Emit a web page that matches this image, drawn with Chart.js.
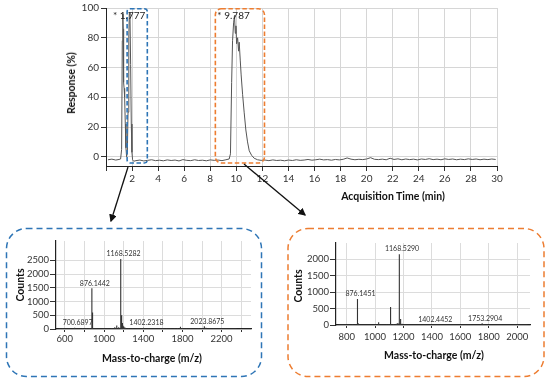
<!DOCTYPE html>
<html><head><meta charset="utf-8">
<script src="https://cdn.jsdelivr.net/npm/chart.js@4"></script>
<style>
html,body{margin:0;padding:0;background:#fff;}
#wrap{position:relative;width:550px;height:383px;overflow:hidden;font-family:Lato,'Open Sans',sans-serif;}
.box{position:absolute;}
.t{position:absolute;font-weight:bold;font-size:10.5px;color:#111;white-space:nowrap;transform:translate(-50%,-50%);}
.r{transform:translate(-50%,-50%) rotate(-90deg);}
svg{position:absolute;left:0;top:0;pointer-events:none;}
</style></head><body>
<div id="wrap">
 <div class="box" style="left:0;top:0;width:550px;height:200px"><canvas id="c1"></canvas></div>
 <div class="box" style="left:0;top:230px;width:275px;height:140px"><canvas id="c2"></canvas></div>
 <div class="box" style="left:280px;top:230px;width:270px;height:140px"><canvas id="c3"></canvas></div>
 <div class="t r" style="left:71px;top:83px">Response (%)</div>
 <div class="t" style="left:393px;top:196px">Acquisition Time (min)</div>
 <div class="t r" style="left:20px;top:285px">Counts</div>
 <div class="t" style="left:152px;top:358px">Mass-to-charge (m/z)</div>
 <div class="t r" style="left:298px;top:286px">Counts</div>
 <div class="t" style="left:434px;top:355px">Mass-to-charge (m/z)</div>
 <svg width="550" height="383">
  <defs><marker id="ah" markerWidth="6" markerHeight="6" refX="5" refY="3" orient="auto"><path d="M0,0 L6,3 L0,6 z" fill="#111"/></marker></defs>
  <line x1="128" y1="167" x2="111" y2="221" stroke="#111" stroke-width="1.3" marker-end="url(#ah)"/>
  <line x1="244" y1="164" x2="305" y2="215" stroke="#111" stroke-width="1.3" marker-end="url(#ah)"/>
  <rect x="6.5" y="228.5" width="255" height="148" rx="20" fill="none" stroke="#2e75b6" stroke-width="1.5" stroke-dasharray="6 4"/>
  <rect x="288" y="228.5" width="256" height="148" rx="20" fill="none" stroke="#ed7d31" stroke-width="1.5" stroke-dasharray="6 4"/>
 </svg>
</div>
<script>
// ---- Chromatogram (acquisition time, min ; response, %) ----
const chromTime = [
 0.15,0.45,0.75,1.0,1.12,1.20,1.25,1.29,1.32,1.35,1.39,1.43,1.48,1.53,1.58,1.64,1.69,1.75,1.79,1.84,1.89,1.94,1.99,2.04,2.12,
 2.3,2.6,2.9,3.2,3.5,3.8,4.1,4.4,4.7,5.0,5.3,5.6,5.9,6.2,6.5,6.8,7.1,7.4,7.7,8.0,8.3,8.6,8.9,9.2,9.45,
 9.55,9.64,9.71,9.79,9.86,9.92,9.97,10.02,10.1,10.17,10.22,10.3,10.37,10.48,10.6,10.73,10.86,10.99,11.17,11.37,11.63,
 11.9,12.2,12.5,12.8,13.1,13.4,13.7,14.0,14.3,14.6,
 14.9,15.2,15.5,15.8,16.1,16.4,16.7,17.0,17.3,17.6,
 17.9,18.2,18.5,18.8,19.1,19.4,19.7,20.0,20.3,20.6,
 20.9,21.2,21.5,21.8,22.1,22.4,22.7,23.0,23.3,23.6,
 23.9,24.2,24.5,24.8,25.1,25.4,25.7,26.0,26.3,26.6,
 26.9,27.2,27.5,27.8,28.1,28.4,28.7,29.0,29.3,29.6,
 29.9];
const chromResp = [
 -2.0,-1.6,-2.2,-1.8,-1.5,5,78,96,86,50,46,40,22,6,0,3,30,80,97,95,62,22,3,-2,-3,
 -2.6,-2.2,-2.8,-2.4,-2.0,-2.6,-2.3,-2.7,-2.1,-2.5,-2.2,-2.8,-1.9,-2.4,-2.6,-2.0,-2.5,-2.3,-2.7,-2.1,-2.4,-2.2,-2.6,-2.0,-1.5,
 2,50,78,90,95,83,88,76,80,71,77,65,55,42,30,18,10,4,1,-1,-2,
 -2.4,-2.2,-2.6,-2.1,-2.5,-2.3,-2.7,-2.2,-2.5,-2.0,
 -2.4,-2.2,-1.8,-2.3,-2.0,-1.6,-2.1,-1.9,-2.3,-1.8,
 -2.1,-1.7,-0.8,-1.6,-2.0,-1.7,-1.9,-1.5,-0.6,-1.7,
 -1.9,-1.6,-2.0,-1.0,-1.8,-1.4,-2.0,-1.5,-1.9,-1.6,
 -2.1,-1.5,-1.8,-1.3,-1.9,-1.6,-2.0,-1.4,-1.8,-1.5,
 -2.0,-1.6,-1.9,-1.4,-1.8,-1.5,-2.0,-1.6,-1.9,-1.5,
 -1.8];
const chromPeakTimes = [1.777, 9.787];
const chromPeakLabels = ['* 1.777', '* 9.787'];
const chromXTicks = [0,2,4,6,8,10,12,14,16,18,20,22,24,26,28,30];
const chromYTicks = [0,20,40,60,80,100];

// ---- Mass spectrum of peak 1 ----
const leftMz = [
 540,580,620,660,700.6897,740,780,820,850,876.1442,
 880.5,885,920,960,1000,1040,1080,1110,1130,1150,
 1168.5282,1172,1177,1182,1188,1195,1205,1220,1250,1290,
 1340,1370,1402.2318,1440,1480,1520,1560,1600,1640,1680,
 1720,1750,1780,1800,1840,1880,1920,1960,2000,2023.8675,
 2040,2080,2120,2160,2200,2240,2280,2320,2350];
const leftCounts = [
 18,25,15,22,50,20,30,25,35,1480,
 600,120,30,20,25,30,40,60,130,60,
 2550,1750,500,330,220,120,80,50,30,25,
 30,20,45,20,25,30,20,35,25,30,
 25,40,80,40,25,30,20,35,30,100,
 50,25,30,20,25,20,22,15,12];
const leftLabelMz = [700.6897, 876.1442, 1168.5282, 1402.2318, 2023.8675];
const leftLabelText = ['700.6897', '876.1442', '1168.5282', '1402.2318', '2023.8675'];
const leftXTicks = [600,800,1000,1200,1400,1600,1800,2000,2200,2400];
const leftXLabels = [600,1000,1400,1800,2200];
const leftYTicks = [0,500,1000,1500,2000,2500];

// ---- Mass spectrum of peak 2 ----
const rightMz = [
 745,780,810,840,860,876.1451,880,910,950,990,
 1025,1050,1080,1095,1109,1130,1150,1160,1168.529,1172,
 1176,1182,1190,1210,1250,1300,1350,1402.4452,1450,1500,
 1550,1600,1650,1700,1753.2904,1765,1800,1850,1900,1950,
 2000,2040,2070];
const rightCounts = [
 10,15,12,30,15,790,60,12,15,10,
 85,15,20,25,545,30,40,60,2160,260,
 180,90,40,15,10,12,10,14,10,8,
 10,12,10,15,50,30,10,8,10,8,
 10,8,6];
const rightLabelMz = [876.1451, 1168.529, 1402.4452, 1753.2904];
const rightLabelText = ['876.1451', '1168.5290', '1402.4452', '1753.2904'];
const rightXTicks = [800,1000,1200,1400,1600,1800,2000];
const rightYTicks = [0,500,1000,1500,2000];

Chart.defaults.font.family = 'Lato, "Open Sans", sans-serif';
Chart.defaults.color = '#333';
Chart.defaults.animation = false;

function sticks(mz, counts) {
  const pts = [];
  mz.forEach((m, i) => { pts.push({x:m,y:0},{x:m,y:counts[i]},{x:m,y:0}); });
  return pts;
}

const boxPlugin = {
  id: 'boxes',
  afterDatasetsDraw(chart, args, opts) {
    const {ctx, scales:{x,y}} = chart;
    ctx.save();
    opts.boxes.forEach(b => {
      const x0 = x.getPixelForValue(b.x0), x1 = x.getPixelForValue(b.x1);
      const y0 = y.getPixelForValue(b.y0), y1 = y.getPixelForValue(b.y1);
      ctx.beginPath();
      ctx.setLineDash([4.5, 2.5]);
      ctx.lineWidth = 1.6;
      ctx.strokeStyle = b.color;
      ctx.roundRect(x0, y0, x1 - x0, y1 - y0, b.r);
      ctx.stroke();
    });
    ctx.setLineDash([]);
    ctx.font = '10px Lato, "Open Sans", sans-serif';
    ctx.fillStyle = '#222';
    ctx.textAlign = 'center';
    ctx.textBaseline = 'middle';
    chromPeakTimes.forEach((t, i) => {
      ctx.fillText(chromPeakLabels[i], x.getPixelForValue(t), y.getPixelForValue(94.5));
    });
    ctx.restore();
  }
};

new Chart(document.getElementById('c1'), {
  type: 'line',
  data: { datasets: [{
    data: chromTime.map((t, i) => ({x: t, y: chromResp[i]})),
    borderColor: '#555', borderWidth: 1, pointRadius: 0, tension: 0
  }]},
  plugins: [boxPlugin],
  options: {
    responsive: true, maintainAspectRatio: false,
    layout: { padding: { left: 0, right: 53, top: 8, bottom: 0 } },
    plugins: { legend: {display: false}, tooltip: {enabled: false},
      boxes: { boxes: [
        {x0: 1.62, x1: 3.17, y0: 99.5, y1: -4.2, color: '#2e75b6', r: 3},
        {x0: 8.39, x1: 12.16, y0: 99.5, y1: -4.2, color: '#ed7d31', r: 6}
      ]}
    },
    scales: {
      x: { type: 'linear', min: 0, max: 30,
        afterFit: s => { s.height = 34; },
        afterBuildTicks: s => { s.ticks = chromXTicks.map(v => ({value: v})); },
        ticks: { autoSkip: false, maxRotation: 0, padding: 2, font: {size: 10}, color: '#333',
          callback: v => v === 0 ? '' : String(v) },
        grid: { color: '#d6d6d6', tickLength: 5, tickColor: '#333' },
        border: { color: '#222', width: 1 } },
      y: { type: 'linear', min: -6.2, max: 100,
        afterFit: s => { s.width = 106; },
        afterBuildTicks: s => { s.ticks = chromYTicks.map(v => ({value: v})); },
        ticks: { autoSkip: false, padding: 2, font: {size: 10}, color: '#333',
          callback: v => String(v) },
        grid: { color: '#d6d6d6', tickLength: 5, tickColor: '#333' },
        border: { color: '#222', width: 1 } }
    }
  }
});

function labelPlugin(mz, counts, lmz, ltext) {
  return {
    id: 'peaklabels',
    afterDatasetsDraw(chart) {
      const {ctx, scales:{x,y}} = chart;
      ctx.save();
      ctx.font = '7px Lato, "Open Sans", sans-serif';
      ctx.fillStyle = '#333';
      ctx.textAlign = 'center';
      ctx.textBaseline = 'middle';
      lmz.forEach((m, i) => {
        const h = counts[mz.indexOf(m)];
        ctx.fillText(ltext[i], x.getPixelForValue(m) + 3, y.getPixelForValue(h) - 5);
      });
      ctx.restore();
    }
  };
}

function spectrum(id, mz, counts, lmz, ltext, cfg) {
  new Chart(document.getElementById(id), {
    type: 'line',
    data: { datasets: [{ data: sticks(mz, counts), borderColor: '#333', borderWidth: 1.1, pointRadius: 0, tension: 0 }]},
    plugins: [labelPlugin(mz, counts, lmz, ltext)],
    options: {
      responsive: true, maintainAspectRatio: false,
      layout: { padding: { left: 0, right: cfg.padR, top: cfg.padT, bottom: 0 } },
      plugins: { legend: {display: false}, tooltip: {enabled: false} },
      scales: {
        x: { type: 'linear', min: cfg.xmin, max: cfg.xmax,
          afterFit: s => { s.height = cfg.xh; },
          afterBuildTicks: s => { s.ticks = cfg.xticks.map(v => ({value: v})); },
          ticks: { autoSkip: false, maxRotation: 0, padding: cfg.xpad, font: {size: 9.5}, color: '#333',
            callback: v => cfg.xlabels.includes(v) ? String(v) : '' },
          grid: { color: '#dcdcdc', tickLength: 3, tickColor: '#333' },
          border: { color: '#222', width: 1.2 } },
        y: { type: 'linear', min: 0, max: cfg.ymax,
          afterFit: s => { s.width = 56; },
          afterBuildTicks: s => { s.ticks = cfg.yticks.map(v => ({value: v})); },
          ticks: { autoSkip: false, padding: 1, font: {size: 9.5}, color: '#333',
            callback: v => String(v) },
          grid: { color: '#dcdcdc', tickLength: 6, tickColor: '#333' },
          border: { color: '#222', width: 1.2 } }
      }
    }
  });
}

spectrum('c2', leftMz, leftCounts, leftLabelMz, leftLabelText,
  {padR: 24, padT: 11, xh: 41, xpad: 1, xmin: 510, xmax: 2500, ymax: 3200,
   xticks: leftXTicks, xlabels: leftXLabels, yticks: leftYTicks});
spectrum('c3', rightMz, rightCounts, rightLabelMz, rightLabelText,
  {padR: 20, padT: 13, xh: 45, xpad: 3, xmin: 725, xmax: 2090, ymax: 2500,
   xticks: rightXTicks, xlabels: rightXTicks, yticks: rightYTicks});
</script>
</body></html>
